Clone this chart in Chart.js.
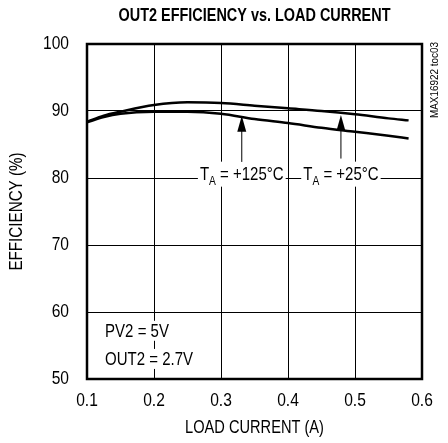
<!DOCTYPE html>
<html>
<head>
<meta charset="utf-8">
<script src="https://cdn.jsdelivr.net/npm/chart.js@4.4.1/dist/chart.umd.min.js"></script>
<style>
  html, body { margin: 0; padding: 0; background: #fff; }
  #wrap { width: 448px; height: 443px; }
</style>
</head>
<body>
<div id="wrap"><canvas id="effChart"></canvas></div>
<script>
// load current (A) and efficiency (%)
const loadCurrent = [0.1, 0.125, 0.15, 0.2, 0.25, 0.3, 0.35, 0.4, 0.45, 0.5, 0.55, 0.58];
const eff25C  = [88.4, 89.3, 89.9, 90.9, 91.3, 91.2, 90.8, 90.4, 90.0, 89.5, 88.9, 88.6];
const eff125C = [88.3, 89.1, 89.6, 89.9, 89.9, 89.6, 88.8, 88.2, 87.5, 86.9, 86.3, 85.9];

const xTicks = [0.1, 0.2, 0.3, 0.4, 0.5, 0.6];
const yTicks = [50, 60, 70, 80, 90, 100];
const xTickLabels = ['0.1', '0.2', '0.3', '0.4', '0.5', '0.6'];
const yTickLabels = ['50', '60', '70', '80', '90', '100'];

// callouts: arrow x, arrow tip (%), arrow tail (%), label y (%)
const callouts = [
    { temp: '+125°C', x: 0.331, tip: 89.3, tail: 82.4, labelY: 80.2 },
    { temp: '+25°C',  x: 0.479, tip: 89.4, tail: 82.9, labelY: 80.2 }
];
const conditions = ['PV2 = 5V', 'OUT2 = 2.7V'];
const condPos = { x: 0.127, y: [56.3, 52.1] };

const FONT = '"Liberation Sans", Arial, sans-serif';
const SQ = 0.79;   // the original uses a condensed face, so text is squeezed

function toPoints(ys) {
    return loadCurrent.map((x, i) => ({ x: x, y: ys[i] }));
}

function narrowText(ctx, text, x, y, sx, rot) {
    ctx.save();
    ctx.translate(x, y);
    if (rot) ctx.rotate(rot);
    ctx.scale(sx, 1);
    ctx.fillText(text, 0, 0);
    ctx.restore();
}

const decorPlugin = {
    id: 'decor',
    afterDatasetsDraw(chart) {
        const ctx = chart.ctx;
        const xs = chart.scales.x, ys = chart.scales.y;
        ctx.save();
        ctx.fillStyle = '#000';
        ctx.strokeStyle = '#000';

        // condition text with white boxes
        ctx.font = '19px ' + FONT;
        ctx.textBaseline = 'alphabetic';
        ctx.textAlign = 'left';
        conditions.forEach((t, i) => {
            const px = xs.getPixelForValue(condPos.x);
            const py = ys.getPixelForValue(condPos.y[i]);
            const w = ctx.measureText(t).width * SQ;
            ctx.fillStyle = '#fff';
            ctx.fillRect(px - 2, py - 16, w + 4, 20);
            ctx.fillStyle = '#000';
            narrowText(ctx, t, px, py, SQ);
        });

        // callouts
        callouts.forEach(c => {
            const px = xs.getPixelForValue(c.x);
            const tipY = ys.getPixelForValue(c.tip);
            const tailY = ys.getPixelForValue(c.tail);
            const ly = ys.getPixelForValue(c.labelY);

            const big = '19px ' + FONT, small = '13px ' + FONT;
            ctx.font = big; const wT = ctx.measureText('T').width * SQ;
            const rest = ' = ' + c.temp; const wR = ctx.measureText(rest).width * SQ;
            ctx.font = small; const wA = ctx.measureText('A').width * SQ;
            const total = wT + wA + wR;
            const x0 = px - total / 2;
            ctx.fillStyle = '#fff';
            ctx.fillRect(x0 - 2, ly - 15, total + 4, 25);
            ctx.fillStyle = '#000';
            ctx.font = big; narrowText(ctx, 'T', x0, ly + 3, SQ);
            ctx.font = small; narrowText(ctx, 'A', x0 + wT, ly + 8, SQ);
            ctx.font = big; narrowText(ctx, rest, x0 + wT + wA, ly + 3, SQ);

            // arrow
            ctx.lineWidth = 1;
            ctx.beginPath();
            ctx.moveTo(px, tailY);
            ctx.lineTo(px, tipY + 10);
            ctx.stroke();
            ctx.beginPath();
            ctx.moveTo(px, tipY);
            ctx.lineTo(px - 4.5, tipY + 16);
            ctx.lineTo(px + 4.5, tipY + 16);
            ctx.closePath();
            ctx.fill();
        });
        ctx.restore();
    },
    afterDraw(chart) {
        const ctx = chart.ctx;
        const a = chart.chartArea;
        const xs = chart.scales.x, ys = chart.scales.y;
        ctx.save();
        ctx.strokeStyle = '#000';
        ctx.lineWidth = 2.5;
        ctx.strokeRect(a.left, a.top, a.right - a.left, a.bottom - a.top);

        ctx.fillStyle = '#000';
        ctx.textBaseline = 'middle';

        // tick labels
        ctx.font = '19px ' + FONT;
        ctx.textAlign = 'center';
        xTicks.forEach((v, i) => narrowText(ctx, xTickLabels[i], xs.getPixelForValue(v), a.bottom + 22, 0.82));
        ctx.textAlign = 'right';
        yTicks.forEach((v, i) => narrowText(ctx, yTickLabels[i], a.left - 18, ys.getPixelForValue(v), 0.82));

        // axis titles
        ctx.textAlign = 'center';
        ctx.font = '19px ' + FONT;
        narrowText(ctx, 'LOAD CURRENT (A)', (a.left + a.right) / 2, a.bottom + 49, 0.77);
        narrowText(ctx, 'EFFICIENCY (%)', 17, (a.top + a.bottom) / 2, 0.8, -Math.PI / 2);

        ctx.font = 'bold 19px ' + FONT;
        narrowText(ctx, 'OUT2 EFFICIENCY vs. LOAD CURRENT', (a.left + a.right) / 2, 16, 0.76);

        ctx.font = '11px ' + FONT;
        narrowText(ctx, 'MAX16922 toc03', 435, 80, 0.9, -Math.PI / 2);
        ctx.restore();
    }
};

new Chart(document.getElementById('effChart'), {
    type: 'line',
    data: {
        datasets: [
            { label: 'TA = +25°C', data: toPoints(eff25C), borderColor: '#000', borderWidth: 2.5,
              pointRadius: 0, cubicInterpolationMode: 'monotone', fill: false },
            { label: 'TA = +125°C', data: toPoints(eff125C), borderColor: '#000', borderWidth: 2.5,
              pointRadius: 0, cubicInterpolationMode: 'monotone', fill: false }
        ]
    },
    options: {
        responsive: true,
        maintainAspectRatio: false,
        animation: false,
        layout: { padding: { top: 44, right: 26, left: 0, bottom: 0 } },
        plugins: { legend: { display: false }, tooltip: { enabled: false }, title: { display: false } },
        scales: {
            x: {
                type: 'linear', min: 0.1, max: 0.6,
                afterBuildTicks: s => { s.ticks = xTicks.map(v => ({ value: v })); },
                afterFit: s => { s.height = 64; },
                grid: { color: '#000', lineWidth: 1, drawTicks: false },
                border: { display: false },
                ticks: { display: false }
            },
            y: {
                min: 50, max: 100,
                afterBuildTicks: s => { s.ticks = yTicks.map(v => ({ value: v })); },
                afterFit: s => { s.width = 87; },
                grid: { color: '#000', lineWidth: 1, drawTicks: false },
                border: { display: false },
                ticks: { display: false }
            }
        }
    },
    plugins: [decorPlugin]
});
</script>
</body>
</html>
